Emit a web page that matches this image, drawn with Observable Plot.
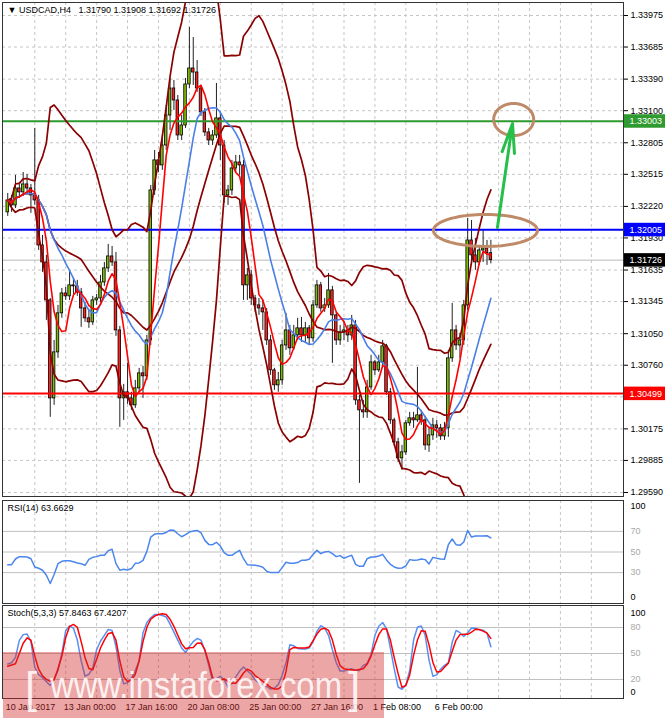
<!DOCTYPE html>
<html>
<head>
<meta charset="utf-8">
<script src="https://cdn.jsdelivr.net/npm/d3@7"></script>
<script src="https://cdn.jsdelivr.net/npm/@observablehq/plot@0.6"></script>
<style>
html,body{margin:0;padding:0;background:#fff;}
#wrap{position:relative;width:665px;height:718px;overflow:hidden;background:#fff;}
#wrap svg{position:absolute;left:0;}
</style>
</head>
<body>
<div id="wrap"></div>
<script>
// ---------- DATA (USDCAD H4) ----------
const opens = [
1.32165,1.32275,1.32229,1.32385,1.32349,1.32422,1.32385,1.32321,1.32275,1.31861,
1.31705,1.31356,1.30455,1.30878,1.31237,1.31420,1.31393,1.31494,1.31485,1.31430,
1.31282,1.31191,1.31154,1.31356,1.31374,1.31521,1.31650,1.31760,1.31705,1.31080,
1.30455,1.30511,1.30455,1.30391,1.30547,1.30685,1.30658,1.30988,1.32367,1.32643,
1.32597,1.32780,1.33056,1.33304,1.33194,1.32872,1.32964,1.33341,1.33488,1.33451,
1.33304,1.33084,1.32900,1.32826,1.32872,1.33029,1.32780,1.32321,1.32367,1.32569,
1.32624,1.32597,1.31494,1.31586,1.31374,1.31310,1.31282,1.31246,1.30988,1.30713,
1.30575,1.30621,1.30942,1.31080,1.30915,1.31034,1.31099,1.31034,1.31099,1.31007,
1.31310,1.31494,1.31282,1.31310,1.31448,1.31218,1.30988,1.31062,1.31080,1.31034,
1.31126,1.30437,1.30345,1.30327,1.30556,1.30786,1.30713,1.30786,1.30933,1.30511,
1.30253,1.30051,1.29904,1.29959,1.30226,1.30272,1.30253,1.30299,1.30253,1.30023,
1.30115,1.30207,1.30180,1.30106,1.30180,1.30823,1.31080,1.30942,1.30988,1.31310,
1.31907,1.31770,1.31705,1.31815,1.31834,1.31790];
const highs = [
1.32339,1.32321,1.32505,1.32440,1.32532,1.32514,1.32422,1.32937,1.32321,1.31953,
1.31770,1.31374,1.30988,1.31310,1.31466,1.31475,1.31632,1.31558,1.31540,1.31466,
1.31338,1.31264,1.31393,1.31411,1.31586,1.31705,1.31871,1.31852,1.31797,1.31117,
1.30584,1.30777,1.30511,1.30621,1.30731,1.30749,1.31034,1.32413,1.32734,1.32716,
1.32872,1.33148,1.33396,1.33378,1.33240,1.33056,1.33396,1.33865,1.33773,1.33562,
1.33332,1.33120,1.32937,1.32918,1.33350,1.33084,1.32826,1.32413,1.32643,1.32689,
1.32689,1.32643,1.31650,1.31632,1.31402,1.31374,1.31356,1.31282,1.31034,1.30731,
1.30694,1.30988,1.31237,1.31126,1.31126,1.31191,1.31200,1.31154,1.31126,1.31356,
1.31540,1.31521,1.31374,1.31604,1.31485,1.31246,1.31126,1.31154,1.31126,1.31218,
1.31172,1.30483,1.30437,1.30621,1.30851,1.30805,1.30851,1.30988,1.30952,1.30547,
1.30272,1.30088,1.30023,1.30253,1.30327,1.30327,1.30740,1.30345,1.30290,1.30180,
1.30272,1.30253,1.30216,1.30235,1.30896,1.31328,1.31126,1.31053,1.31356,1.32110,
1.32091,1.31926,1.31861,1.31999,1.31907,1.31908];
const lows = [
1.32128,1.32165,1.32201,1.32293,1.32312,1.32321,1.32156,1.32229,1.31815,1.31613,
1.31172,1.30281,1.30391,1.30823,1.31191,1.31356,1.31356,1.31411,1.31393,1.31108,
1.31154,1.31099,1.31126,1.31310,1.31338,1.31485,1.31613,1.31668,1.31025,1.30189,
1.30253,1.30400,1.30345,1.30363,1.30511,1.30455,1.30621,1.30942,1.32321,1.32532,
1.32551,1.32734,1.32918,1.33102,1.32826,1.32826,1.32937,1.33304,1.33332,1.33268,
1.33047,1.32863,1.32780,1.32780,1.32845,1.32643,1.32247,1.32229,1.32321,1.32532,
1.32505,1.31356,1.31356,1.31310,1.31246,1.31218,1.31080,1.30942,1.30667,1.30529,
1.30511,1.30575,1.30896,1.30851,1.30896,1.30988,1.30970,1.30961,1.30942,1.30970,
1.31282,1.31246,1.31246,1.31282,1.30777,1.30942,1.30942,1.30988,1.30970,1.30988,
1.30391,1.29674,1.30272,1.30272,1.30529,1.30667,1.30694,1.30731,1.30483,1.30216,
1.30014,1.29867,1.29794,1.29932,1.30198,1.30180,1.30235,1.30207,1.29977,1.29959,
1.30069,1.30088,1.30069,1.30069,1.30097,1.30786,1.30896,1.30823,1.30942,1.31264,
1.31678,1.31632,1.31678,1.31705,1.31678,1.31692];
const closes = [
1.32275,1.32229,1.32385,1.32349,1.32422,1.32385,1.32321,1.32275,1.31861,1.31705,
1.31356,1.30455,1.30878,1.31237,1.31420,1.31393,1.31494,1.31485,1.31430,1.31282,
1.31191,1.31154,1.31356,1.31374,1.31521,1.31650,1.31760,1.31705,1.31080,1.30455,
1.30511,1.30455,1.30391,1.30547,1.30685,1.30658,1.30988,1.32367,1.32643,1.32597,
1.32780,1.33056,1.33304,1.33194,1.32872,1.32964,1.33341,1.33488,1.33451,1.33304,
1.33084,1.32900,1.32826,1.32872,1.33029,1.32780,1.32321,1.32367,1.32569,1.32624,
1.32597,1.31494,1.31586,1.31374,1.31310,1.31282,1.31246,1.30988,1.30713,1.30575,
1.30621,1.30942,1.31080,1.30915,1.31034,1.31099,1.31034,1.31099,1.31007,1.31310,
1.31494,1.31282,1.31310,1.31448,1.31218,1.30988,1.31062,1.31080,1.31034,1.31126,
1.30437,1.30345,1.30327,1.30556,1.30786,1.30713,1.30786,1.30933,1.30511,1.30253,
1.30051,1.29904,1.29959,1.30226,1.30272,1.30253,1.30299,1.30253,1.30023,1.30115,
1.30207,1.30180,1.30106,1.30180,1.30823,1.31080,1.30942,1.30988,1.31310,1.31907,
1.31770,1.31705,1.31815,1.31834,1.31790,1.31726];

const rsi14 = [
37.7,37.7,43.2,45.5,45.5,45.2,43.5,35.5,34.2,32.3,
27.4,19.4,28.1,38.7,41.0,41.6,41.6,40.6,39.4,38.7,
37.1,42.9,44.8,45.5,46.8,46.8,51.3,52.6,38.7,32.3,
33.2,32.6,33.9,39.0,39.4,41.9,50.6,64.5,67.4,67.7,
67.7,69.0,71.3,71.0,67.7,64.8,66.8,69.4,70.3,71.0,
68.7,61.3,57.4,57.1,59.4,55.8,49.4,46.8,46.8,49.4,
51.6,43.5,37.7,37.4,37.1,36.5,35.2,31.3,30.0,30.0,
30.0,34.8,40.0,39.0,39.0,39.7,41.9,41.9,42.9,47.7,
51.6,48.4,50.0,50.6,48.4,45.5,46.5,43.9,45.5,46.8,
38.0,36.1,36.1,43.5,45.2,45.2,46.1,47.7,42.3,38.0,
35.5,34.2,34.5,36.5,42.6,41.9,42.3,43.2,42.6,38.4,
44.8,43.9,43.2,42.9,57.1,62.6,57.1,56.5,59.7,71.0,
64.5,65.5,65.5,65.5,65.8,63.66];

const stochK = [
37.8,39.3,45.6,65.1,71.8,72.5,63.7,34.1,25.6,22.0,
17.5,13.1,20.1,30.4,50.0,76.6,81.7,79.2,65.5,41.5,
23.8,26.0,33.4,54.4,64.4,71.0,77.7,76.6,58.1,30.4,
14.9,16.4,21.2,30.4,41.5,74.0,85.8,91.3,95.0,95.0,
93.9,92.1,84.0,74.7,65.5,56.3,51.1,58.1,63.7,67.3,
65.5,53.3,36.0,18.3,20.8,23.8,19.4,11.3,15.7,23.1,
29.7,34.5,30.1,26.0,19.4,16.0,12.7,12.0,9.0,9.8,
14.2,24.9,39.3,60.0,58.9,55.9,55.2,55.2,56.3,63.7,
75.5,82.1,79.2,71.0,54.4,39.3,29.7,29.7,31.5,32.3,
30.4,30.4,36.3,38.6,48.9,71.0,81.4,85.8,78.4,56.3,
32.3,11.3,8.7,13.5,30.4,65.5,80.3,81.7,71.0,42.3,
23.8,25.3,31.9,36.3,39.3,62.9,76.6,74.0,69.6,74.0,
79.5,79.2,77.3,76.9,73.6,57.85];
const stochD = [
35.2,36.7,38.2,50.0,61.8,68.1,65.5,47.0,31.9,24.2,
20.1,17.9,19.7,32.3,47.0,68.5,81.4,83.6,80.3,63.7,
45.2,32.7,31.2,43.4,56.3,65.5,72.9,74.4,65.5,41.5,
23.1,17.5,19.4,26.0,41.5,63.7,80.3,89.5,93.2,95.0,
95.8,95.0,89.5,81.4,71.0,61.1,55.5,56.6,57.0,61.8,
62.2,54.4,39.7,22.3,18.6,18.6,20.8,17.5,15.7,15.7,
20.8,27.5,31.9,29.7,24.5,21.2,17.9,14.6,10.9,9.0,
9.0,12.7,29.3,54.4,57.0,56.6,56.3,56.3,57.4,64.8,
72.5,78.0,79.2,76.6,65.5,48.9,36.0,32.3,31.5,31.2,
30.8,31.5,32.3,37.8,47.0,60.0,71.8,78.4,78.4,65.5,
45.2,26.8,10.9,13.1,25.3,47.8,65.5,76.2,75.8,60.0,
39.7,28.6,29.3,34.1,38.9,52.6,65.5,71.8,72.1,72.1,
74.7,78.0,77.7,75.8,73.6,67.42];

const priceTicks = [1.33975,1.33685,1.33390,1.33100,1.32805,1.32515,1.32220,1.31930,1.31635,1.31345,1.31050,1.30760,1.30470,1.30175,1.29885,1.29590];
const priceTickLabels = ["1.33975","1.33685","1.33390","1.33100","1.32805","1.32515","1.32220","1.31930","1.31635","1.31345","1.31050","1.30760","1.30470","1.30175","1.29885","1.29590"];
const levelPrices = [1.33003, 1.32005, 1.30499];
const levelLabels = ["1.33003", "1.32005", "1.30499"];
const bidPrice = 1.31726;
const bidLabel = "1.31726";
const gridBars = [7,15,23,31,39,47,55,63,71,79,87,95,103,111,119,127,135,143,151];
const dateTickBars = [0,15,31,47,63,79,95,111];
const dateTickLabels = ["10 Jan 2017","13 Jan 00:00","17 Jan 16:00","20 Jan 08:00","25 Jan 00:00","27 Jan 16:00","1 Feb 08:00","6 Feb 00:00"];
const rsiLevels = [70, 50, 30];
const stochLevels = [80, 50, 20];
const titleText = "\u25BC USDCAD,H4\u00a0\u00a0 1.31790 1.31908 1.31692 1.31726";
const rsiTitle = "RSI(14) 63.6629";
const stochTitle = "Stoch(5,3,3) 57.8463 67.4207";

// ---------- derived indicators ----------
const N = closes.length;
const idx = d3.range(N);
const bars = idx.map(i => ({i, o: opens[i], h: highs[i], l: lows[i], c: closes[i]}));
const sma = (arr, i, n) => d3.mean(arr.slice(Math.max(0, i - n + 1), i + 1));
const ma5 = idx.map(i => sma(closes, i, 5));
const ma13 = idx.map(i => sma(closes, i, 13));
const bb = idx.map(i => {
  const w = closes.slice(Math.max(0, i - 19), i + 1);
  const m = d3.mean(w);
  const sd = Math.sqrt(d3.mean(w, v => (v - m) * (v - m)));
  return {m, up: m + 2 * sd, lo: m - 2 * sd};
});

// ---------- layout ----------
const FONT = "'Liberation Sans', Arial, 'DejaVu Sans', sans-serif";
const W = 665, ML = 2, MR = 42;
const xDomain = [-1.356, 159.317];
const yDomain = [1.295532, 1.340945];
const pxPerBar = (W - ML - MR) / (xDomain[1] - xDomain[0]);
const pxPerPrice = 494 / (yDomain[1] - yDomain[0]);
const style = {fontFamily: FONT, fontSize: "9px", background: "transparent", overflow: "visible", color: "#000"};
const dash = {stroke: "#c6c6c6", strokeDasharray: "3,3", strokeWidth: 1};
const xEdge = xDomain[1];

function ellipse(cx, cy, rxPx, ryPx) {
  return d3.range(0, 361, 4).map(a => ({
    x: cx + rxPx / pxPerBar * Math.cos(a * Math.PI / 180),
    y: cy + ryPx / pxPerPrice * Math.sin(a * Math.PI / 180)
  }));
}
const ell1 = ellipse(123.6, 1.31999, 52, 16);
const ell2 = ellipse(130.9, 1.33019, 20, 16);

const boxPrices = [...levelPrices, bidPrice];
const boxLabels = [...levelLabels, bidLabel];
const boxFill = ["#2f9a2f", "#0000ff", "#ff0000", "#000000"];
const boxIdx = d3.range(boxPrices.length);
const tickLabelOf = new Map(priceTicks.map((t, k) => [t, priceTickLabels[k]]));

const main = Plot.plot({
  width: W, height: 498, marginTop: 2, marginBottom: 2, marginLeft: ML, marginRight: MR,
  x: {domain: xDomain, axis: null},
  y: {domain: yDomain, axis: null},
  color: {type: "identity"},
  style,
  marks: [
    Plot.ruleY(priceTicks, dash),
    Plot.ruleX(gridBars, dash),
    Plot.ruleY([bidPrice], {stroke: "#b8b8b8", strokeWidth: 1}),
    Plot.ruleX(bars, {x: "i", y1: "l", y2: "h", stroke: "#222", strokeWidth: 1}),
    Plot.rect(bars, {x1: d => d.i - 0.33, x2: d => d.i + 0.33, y1: "o", y2: "c",
      fill: d => d.c >= d.o ? "#7dbd00" : "#ff2020", stroke: "#000", strokeWidth: 0.8}),
    Plot.ruleY([levelPrices[0]], {stroke: "#2e9a2e", strokeWidth: 2}),
    Plot.ruleY([levelPrices[1]], {stroke: "#0000ff", strokeWidth: 2}),
    Plot.ruleY([levelPrices[2]], {stroke: "#ff0000", strokeWidth: 2}),
    Plot.line(idx, {x: d => d, y: d => bb[d].up, stroke: "#8b0000", strokeWidth: 1.7, clip: true}),
    Plot.line(idx, {x: d => d, y: d => bb[d].m, stroke: "#8b0000", strokeWidth: 1.7, clip: true}),
    Plot.line(idx, {x: d => d, y: d => bb[d].lo, stroke: "#8b0000", strokeWidth: 1.7, clip: true}),
    Plot.line(idx, {x: d => d, y: d => ma13[d], stroke: "#4a7fe8", strokeWidth: 1.6}),
    Plot.line(idx, {x: d => d, y: d => ma5[d], stroke: "#ff0000", strokeWidth: 1.6}),
    Plot.line(ell1, {x: "x", y: "y", stroke: "#bf8a68", strokeWidth: 3}),
    Plot.line(ell2, {x: "x", y: "y", stroke: "#bf8a68", strokeWidth: 3}),
    Plot.arrow([0], {x1: 126.7, y1: 1.32026, x2: 130.6, y2: 1.32982, stroke: "#25bf4a", strokeWidth: 3, headLength: 15, headAngle: 24}),
    Plot.frame({stroke: "#333"}),
    Plot.axisY(priceTicks, {anchor: "right", tickSize: 4, tickPadding: 3, tickFormat: d => tickLabelOf.get(d)}),
    Plot.rect(boxIdx, {x1: xEdge + 1 / pxPerBar, x2: xEdge + 42 / pxPerBar,
      y1: k => boxPrices[k] - 7 / pxPerPrice, y2: k => boxPrices[k] + 6.5 / pxPerPrice, fill: k => boxFill[k]}),
    Plot.text(boxIdx, {x: xEdge, y: k => boxPrices[k], text: k => boxLabels[k], dx: 6, textAnchor: "start", fill: "white"}),
    Plot.text([titleText], {frameAnchor: "top-left", dx: 5, dy: 4, text: d => d})
  ]
});
main.style.top = "0px";

const rsiSvg = Plot.plot({
  width: W, height: 105, marginTop: 1, marginBottom: 1, marginLeft: ML, marginRight: MR,
  x: {domain: xDomain, axis: null},
  y: {domain: [0, 100], axis: null},
  style,
  marks: [
    Plot.ruleX(gridBars, dash),
    Plot.ruleY(rsiLevels, {stroke: "#c0c0c0"}),
    Plot.line(rsi14, {x: (d, i) => i, y: d => d, stroke: "#4a86ee", strokeWidth: 1.5}),
    Plot.frame({stroke: "#333"}),
    Plot.text(rsiLevels, {x: xEdge, y: d => d, text: d => String(d), dx: 7, textAnchor: "start", fill: "#a8a8a8"}),
    Plot.text([100], {x: xEdge, y: d => d, text: d => String(d), dx: 7, dy: 6, textAnchor: "start"}),
    Plot.text([0], {x: xEdge, y: d => d, text: d => String(d), dx: 7, dy: -6, textAnchor: "start"}),
    Plot.text([rsiTitle], {frameAnchor: "top-left", dx: 5, dy: 4, text: d => d})
  ]
});
rsiSvg.style.top = "499px";

const stochSvg = Plot.plot({
  width: W, height: 114, marginTop: 1, marginBottom: 20, marginLeft: ML, marginRight: MR,
  x: {domain: xDomain, axis: null},
  y: {domain: [-1.96, 105.43], axis: null},
  style,
  marks: [
    Plot.ruleX(gridBars, dash),
    Plot.ruleY(stochLevels, {stroke: "#c0c0c0"}),
    Plot.line(stochK, {x: (d, i) => i, y: d => d, stroke: "#5a8ff0", strokeWidth: 1.5}),
    Plot.line(stochD, {x: (d, i) => i, y: d => d, stroke: "#ff0000", strokeWidth: 1.5}),
    Plot.frame({stroke: "#333"}),
    Plot.text(stochLevels, {x: xEdge, y: d => d, text: d => String(d), dx: 7, textAnchor: "start", fill: "#a8a8a8"}),
    Plot.text([100], {x: xEdge, y: d => d, text: d => String(d), dx: 7, dy: 3, textAnchor: "start"}),
    Plot.text([0], {x: xEdge, y: d => d, text: d => String(d), dx: 7, dy: -5, textAnchor: "start"}),
    Plot.text([stochTitle], {frameAnchor: "top-left", dx: 5, dy: 4, text: d => d}),
    Plot.text(dateTickBars, {x: d => d, frameAnchor: "bottom", lineAnchor: "middle", dy: 9, dx: -2,
      text: (d, i) => dateTickLabels[i], textAnchor: "start"})
  ]
});
stochSvg.style.top = "604px";

const wrap = document.getElementById("wrap");
wrap.appendChild(main);
wrap.appendChild(rsiSvg);
wrap.appendChild(stochSvg);

// watermark overlay
const wm = d3.select(wrap).append("svg").attr("width", W).attr("height", 718)
  .style("top", "0px").style("pointer-events", "none");
wm.append("rect").attr("x", 3).attr("y", 652).attr("width", 381).attr("height", 66)
  .attr("fill", "rgba(212,42,42,0.42)");
const wmText = wm.append("g").attr("fill", "rgba(255,255,255,0.85)").attr("font-family", FONT);
wmText.append("text").attr("x", 25).attr("y", 703).attr("font-size", 44).text("[");
wmText.append("text").attr("x", 50).attr("y", 698).attr("font-size", 36)
  .attr("textLength", 292).attr("lengthAdjust", "spacingAndGlyphs").text("www.instaforex.com");
wmText.append("text").attr("x", 348).attr("y", 703).attr("font-size", 44).text("]");
</script>
</body>
</html>
